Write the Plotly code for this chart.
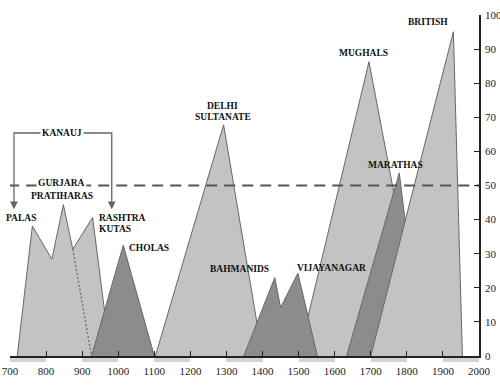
import plotly.graph_objects as go

# ---- data (year, share) ----
years_ticks = list(range(700, 2001, 100))
value_ticks = list(range(0, 101, 10))

palas_x = [720, 762, 816, 848, 874, 929, 978]
palas_y = [0, 38.1, 28.4, 44.4, 31.3, 40.6, 0]
split_x = [874, 926]
split_y = [31.3, 0]
cholas_x = [926, 1014, 1100]
cholas_y = [0, 32.5, 0]
delhi_x = [1103, 1292, 1400]
delhi_y = [0, 67.8, 0]
mughals_x = [1500, 1695, 1850]
mughals_y = [0, 86.3, 0]
bahmanids_x = [1348, 1434, 1450, 1498, 1552]
bahmanids_y = [0, 23.0, 14.2, 24.3, 0]
marathas_x = [1633, 1779, 1841]
marathas_y = [0, 53.7, 0]
british_x = [1700, 1929, 1954]
british_y = [0, 95.1, 0]

threshold = 50
kanauj_x = [711, 711, 982, 982]
kanauj_y = [45.5, 65.4, 65.4, 45.5]
kanauj_tip = 43

band_centers = [750, 950, 1150, 1350, 1550, 1750, 1950]

labels = [
    ("KANAUJ", 843, 65.4, "center", True),
    ("GURJARA", 844, 50.6, "center", True),
    ("PRATIHARAS", 844, 46.8, "center", False),
    ("PALAS", 730, 40.6, "center", False),
    ("RASHTRA", 940, 40.6, "left", False),
    ("KUTAS", 940, 37.1, "left", False),
    ("CHOLAS", 1023, 31.8, "left", False),
    ("DELHI", 1290, 73.4, "center", False),
    ("SULTANATE", 1290, 70.0, "center", False),
    ("BAHMANIDS", 1335, 25.4, "center", False),
    ("VIJAYANAGAR", 1591, 25.9, "center", False),
    ("MUGHALS", 1681, 88.8, "center", False),
    ("MARATHAS", 1768, 55.9, "center", False),
    ("BRITISH", 1859, 98.0, "center", False),
]

LIGHT = "#c3c3c3"
DARK = "#8c8c8c"
EDGE = "#676767"

fig = go.Figure()

def area(xs, ys, color):
    fig.add_trace(go.Scatter(x=xs, y=ys, fill="toself", fillcolor=color, mode="lines",
                             line=dict(color=EDGE, width=1), hoverinfo="skip", showlegend=False))

area(palas_x, palas_y, LIGHT)
fig.add_trace(go.Scatter(x=split_x, y=split_y, mode="lines",
                         line=dict(color="#6a6a6a", width=1.3, dash="2px,2px"),
                         hoverinfo="skip", showlegend=False))
area(cholas_x, cholas_y, DARK)
area(delhi_x, delhi_y, LIGHT)
area(mughals_x, mughals_y, LIGHT)
area(bahmanids_x, bahmanids_y, DARK)
area(marathas_x, marathas_y, DARK)
area(british_x, british_y, LIGHT)

# threshold dashed line
fig.add_trace(go.Scatter(x=[695, 2000], y=[threshold, threshold], mode="lines",
                         line=dict(color="#555555", width=2, dash="11px,7px"),
                         hoverinfo="skip", showlegend=False, cliponaxis=False))

# Kanauj bracket
fig.add_trace(go.Scatter(x=kanauj_x, y=kanauj_y, mode="lines",
                         line=dict(color="#666666", width=1.3),
                         hoverinfo="skip", showlegend=False))

# alternating century bands below the axis
fig.add_trace(go.Bar(x=band_centers, y=[1] * len(band_centers), width=100,
                     marker=dict(color="#d3d3d3", line=dict(width=0)),
                     xaxis="x", yaxis="y2", hoverinfo="skip", showlegend=False))

annotations = []
for xv in (kanauj_x[0], kanauj_x[-1]):
    annotations.append(dict(x=xv, y=kanauj_tip, ax=xv, ay=kanauj_y[0] + 0.5,
                            xref="x", yref="y", axref="x", ayref="y",
                            showarrow=True, arrowhead=2, arrowsize=1.2, arrowwidth=1.3,
                            arrowcolor="#666666", text=""))

for txt, xv, yv, al, bg in labels:
    annotations.append(dict(x=xv, y=yv, xref="x", yref="y", text=txt, showarrow=False,
                            xanchor=al, yanchor="middle",
                            bgcolor="white" if bg else None, borderpad=1,
                            font=dict(family="Liberation Serif", size=9.5, color="#111111",
                                      weight="bold")))

plot_h = 385 - 15 - 23
band_top = 4 / plot_h
y_bottom = 6 / plot_h

fig.update_layout(
    width=500, height=385,
    margin=dict(l=10, r=21, t=15, b=23),
    paper_bgcolor="white", plot_bgcolor="white",
    annotations=annotations,
    bargap=0,
    xaxis=dict(range=[700, 2000], tickvals=years_ticks, ticks="inside", ticklen=5,
               tickcolor="#222222", showline=True, linecolor="#222222", linewidth=1.5,
               showgrid=False, zeroline=False, ticklabelstandoff=4, anchor="y",
               automargin=False,
               tickfont=dict(family="Liberation Serif", size=11, color="#222222")),
    yaxis=dict(range=[0, 100], tickvals=value_ticks, side="right", ticks="inside",
               ticklen=5, tickcolor="#222222", showline=True, linecolor="#222222",
               linewidth=1.5, showgrid=False, zeroline=False, ticklabelstandoff=2,
               domain=[y_bottom, 1], anchor="x", automargin=False,
               tickfont=dict(family="Liberation Serif", size=11, color="#222222")),
    yaxis2=dict(range=[0, 1], domain=[0, band_top], visible=False, anchor="x",
                fixedrange=True),
)

fig.write_html("out.html", config={"displayModeBar": False},
               post_script="document.body.style.margin='0';")
